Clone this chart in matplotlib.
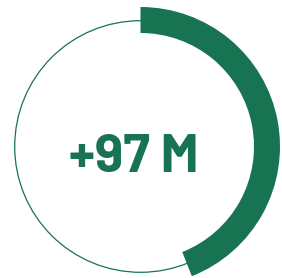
import matplotlib
matplotlib.use("Agg")
import matplotlib.pyplot as plt

# Data
labels = ["Progress", "Remainder"]
values = [44, 56]
center_label = "+97 M"

GREEN = "#177352"

W, H = 282, 278
fig = plt.figure(figsize=(W / 100, H / 100), dpi=100)
ax = fig.add_axes([0, 0, 1, 1])

cx, cy = 140.5, H - 146.5

# thin full circle
ring = plt.Circle((cx, cy), 125.8, fill=False, edgecolor=GREEN, linewidth=0.9, zorder=1)
ax.add_patch(ring)

# thick progress arc
ax.pie(values, colors=[GREEN, "none"], startangle=90, counterclock=False,
       center=(cx, cy), radius=139.5, wedgeprops=dict(width=26, linewidth=0),
       frame=True)
ax.set_xlim(0, W)
ax.set_ylim(0, H)
ax.set_aspect("equal")
ax.axis("off")

ax.text(134, H - 172, center_label, ha="center", va="baseline",
        fontsize=38.5, fontweight="bold", family="Barlow",
        color=GREEN, zorder=3)

fig.savefig("out.png", dpi=100)
